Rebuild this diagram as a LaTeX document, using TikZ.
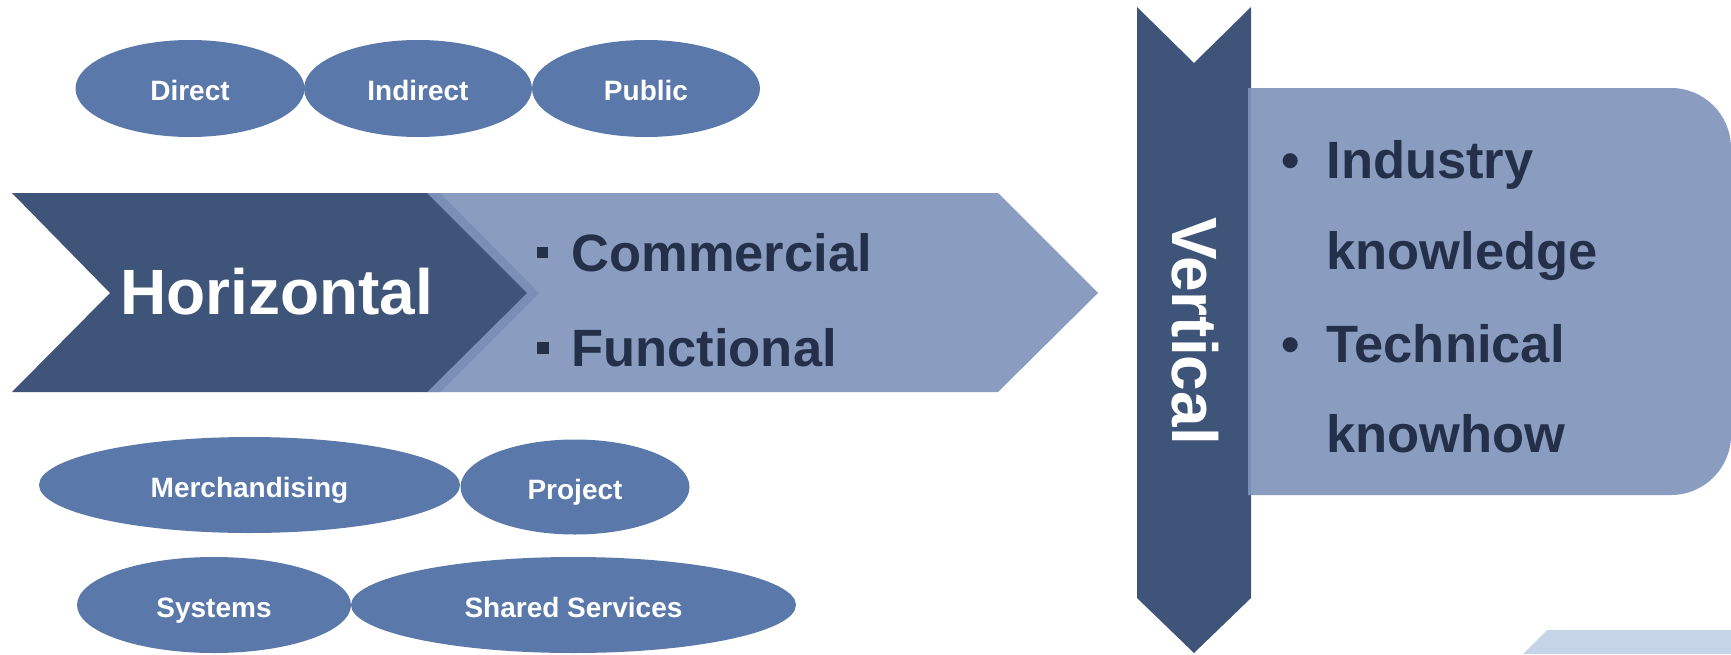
\documentclass[tikz,border=0pt]{standalone}
\usepackage{fontspec}
\setmainfont{Liberation Sans}
\usetikzlibrary{shapes.geometric}
\definecolor{navy}{HTML}{3F5479}
\definecolor{paleblue}{HTML}{8A9DC1}
\definecolor{bandblue}{HTML}{7A8EB6}
\definecolor{ovalblue}{HTML}{5A79AA}
\definecolor{ink}{HTML}{243049}
\definecolor{frag}{HTML}{C6D4E7}
\tikzset{
  oval/.style={ellipse, fill=ovalblue, text=white, inner sep=0pt, text height=12pt, text depth=0pt, font=\bfseries\fontsize{14}{14}\selectfont},
  item/.style={anchor=base west, inner sep=0pt, text=ink, font=\bfseries\fontsize{26.25}{26}\selectfont},
  bigword/.style={inner sep=0pt, text=white, font=\bfseries\fontsize{32}{32}\selectfont}
}
\begin{document}
\begin{tikzpicture}[x=.5pt, y=-.5pt]
\useasboundingbox (0,0) rectangle (1731,654);
% horizontal chevrons
\fill[paleblue](427,193)--(998,193)--(1098,293)--(998,392)--(427,392)--cycle;
\fill[bandblue](427,193)--(440,193)--(539,293)--(440,392)--(427,392)--cycle;
\fill[navy](12,193)--(427,193)--(527,293)--(427,392)--(12,392)--(110,293)--cycle;
\node[bigword, anchor=base west] (horizontal) at (120,314) {Horizontal};
\fill[ink](537,247) rectangle (548,258);
\node[item] (commercial) at (571,271) {Commercial};
\fill[ink](537,342) rectangle (549,354);
\node[item] (functional) at (571,366) {Functional};
% ovals
\foreach \name/\cx/\cy/\w/\h/\txt in {direct/190/88.5/229/97/Direct, indirect/418/88.5/228/97/Indirect,
  public/646/88.5/228/97/Public, merch/249.5/485/421/96/Merchandising, project/575/487/229/95/Project,
  systems/214/605/274/96/Systems, shared/573.5/605/445/96/Shared Services}
{
    \node[oval, minimum width=\w*.5pt, minimum height=\h*.5pt] (\name) at (\cx,\cy) {\txt};
}
% vertical banner and box
\fill[navy](1137,7)--(1194,63)--(1251,7)--(1251,598)--(1194,653)--(1137,598)--cycle;
\node[bigword, rotate=-90] (vertical) at (1195,331) {Vertical};
\fill[paleblue](1248,88)--(1671,88) arc[start angle=-90, end angle=0, radius=60]--(1731,435)
  arc[start angle=0, end angle=90, radius=60]--(1248,495)--cycle;
\fill[bandblue](1248,88) rectangle (1251,495);
\node[item] (dot1) at (1281,178) {•};
\node[item] (industry) at (1326,178) {Industry};
\node[item] (knowledge) at (1326,269) {knowledge};
\node[item] (dot2) at (1281,362) {•};
\node[item] (technical) at (1326,362) {Technical};
\node[item] (knowhow) at (1326,452) {knowhow};
\fill[frag](1523,654)--(1547,630)--(1731,630)--(1731,654)--cycle;
\end{tikzpicture}
\end{document}
